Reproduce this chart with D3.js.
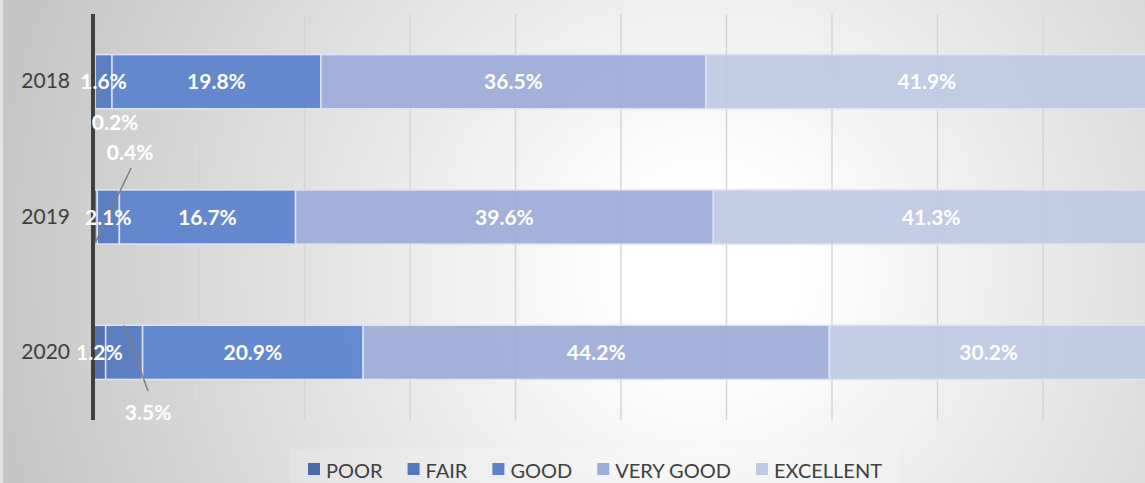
<!DOCTYPE html>
<html>
<head>
<meta charset="utf-8">
<script src="https://cdn.jsdelivr.net/npm/d3@7"></script>
<style>
  html, body { margin: 0; padding: 0; background: #fff; }
  svg { display: block; font-family: Lato, "Open Sans", sans-serif; }
</style>
</head>
<body>
<script>
/*** data ***/
const years = ["2018", "2019", "2020"];
const keys = ["POOR", "FAIR", "GOOD", "VERY GOOD", "EXCELLENT"];
const poor = [0.2, 0.4, 1.2];
const fair = [1.6, 2.1, 3.5];
const good = [19.8, 16.7, 20.9];
const veryGood = [36.5, 39.6, 44.2];
const excellent = [41.9, 41.3, 30.2];
const colors = ["#4a6aae", "#5278c0", "#5b82cc", "#9dacd8", "#c0c9e4"];

// labels that sit outside the bar: [year, key, dx, dy, leader line?]
const callouts = [
  ["2018", "POOR", 21, 41, false],
  ["2019", "POOR", 35, -65, true],
  ["2020", "FAIR", 24, 60, true]
];

/*** global variables ***/
const width = 1145, height = 483;

const rows = years.map((yr, i) => ({
  year: yr,
  "POOR": poor[i], "FAIR": fair[i], "GOOD": good[i],
  "VERY GOOD": veryGood[i], "EXCELLENT": excellent[i]
}));

const series = d3.stack().keys(keys)(rows);

const x = d3.scaleLinear().domain([0, 100]).range([93, 1148]);
const y = d3.scaleBand().domain(years).range([14, 420])
  .paddingInner(0.6).paddingOuter(0.3);
const color = d3.scaleOrdinal(keys, colors);

const svg = d3.select("body").append("svg")
  .attr("width", width).attr("height", height)
  .attr("viewBox", [0, 0, width, height]);

/*** background ***/
const defs = svg.append("defs");
const grad = defs.append("radialGradient")
  .attr("id", "bg").attr("gradientUnits", "userSpaceOnUse")
  .attr("cx", 710).attr("cy", 270).attr("r", 720);
grad.append("stop").attr("offset", 0).attr("stop-color", "#ffffff");
grad.append("stop").attr("offset", 0.12).attr("stop-color", "#ffffff");
grad.append("stop").attr("offset", 1).attr("stop-color", "#c6c6c6");

const gridGrad = defs.append("linearGradient")
  .attr("id", "gridline").attr("gradientUnits", "userSpaceOnUse")
  .attr("x1", 0).attr("y1", 14).attr("x2", 0).attr("y2", 420);
gridGrad.append("stop").attr("offset", 0).attr("stop-color", "#d4d4d4");
gridGrad.append("stop").attr("offset", 1).attr("stop-color", "#8c8c8c");

svg.append("rect").attr("width", width).attr("height", height).attr("fill", "#e4e4e4");
svg.append("rect").attr("x", 3).attr("width", width - 3).attr("height", height)
  .attr("fill", "url(#bg)");

/*** gridlines ***/
svg.append("g")
  .attr("transform", `translate(0,420)`)
  .call(d3.axisBottom(x).tickValues(d3.range(10, 101, 10)).tickSize(-406).tickFormat(""))
  .call(g => g.select(".domain").remove())
  .call(g => g.selectAll(".tick line")
    .attr("stroke", "url(#gridline)").attr("stroke-width", 1.4));

/*** bars ***/
svg.append("g")
  .selectAll("g")
  .data(series)
  .join("g")
  .attr("fill", d => color(d.key))
  .selectAll("rect")
  .data(d => d)
  .join("rect")
  .attr("x", d => x(d[0]))
  .attr("y", d => y(d.data.year))
  .attr("width", d => x(d[1]) - x(d[0]))
  .attr("height", y.bandwidth())
  .attr("fill-opacity", 0.93)
  .attr("stroke", "#dde3f3")
  .attr("stroke-width", 1.5);

/*** vertical axis ***/
svg.append("g")
  .attr("transform", `translate(${x(0)},0)`)
  .call(d3.axisLeft(y).tickSize(0).tickPadding(23))
  .call(g => g.select(".domain")
    .attr("d", `M0,14V420`).attr("stroke", "#404040").attr("stroke-width", 4))
  .call(g => g.selectAll("text")
    .attr("fill", "#404040").attr("font-size", 21)
    .attr("font-family", "Lato, 'Open Sans', sans-serif"));

/*** data labels ***/
const isCallout = (yr, key) => callouts.find(c => c[0] === yr && c[1] === key);
const labels = [];
series.forEach(s => s.forEach(d => {
  const c = isCallout(d.data.year, s.key);
  const cx = (x(d[0]) + x(d[1])) / 2;
  const cy = y(d.data.year) + y.bandwidth() / 2;
  labels.push({
    text: d3.format(".1f")(d.data[s.key]) + "%",
    x: c ? cx + c[2] : cx,
    y: c ? cy + c[3] : cy,
    lead: c && c[4] ? {x0: cx, y0: c[3] < 0 ? cy + y.bandwidth() / 2 - 1 : cy - y.bandwidth() / 2,
                       x1: cx + c[2] + (c[3] < 0 ? 1 : 0), y1: cy + c[3] + (c[3] < 0 ? 16 : -21)} : null
  });
}));

svg.append("g")
  .selectAll("line")
  .data(labels.filter(d => d.lead))
  .join("line")
  .attr("x1", d => d.lead.x0).attr("y1", d => d.lead.y0)
  .attr("x2", d => d.lead.x1).attr("y2", d => d.lead.y1)
  .attr("stroke", "#7f7f7f").attr("stroke-width", 1.5);

svg.append("g")
  .selectAll("text")
  .data(labels)
  .join("text")
  .attr("x", d => d.x).attr("y", d => d.y)
  .attr("dy", "0.36em")
  .attr("text-anchor", "middle")
  .attr("fill", "#ffffff")
  .attr("font-size", 21)
  .attr("font-weight", "bold")
  .text(d => d.text);

/*** legend ***/
const legend = svg.append("g");
const legendBg = legend.append("rect")
  .attr("fill", "#ffffff").attr("fill-opacity", 0.16);
const items = legend.selectAll("g")
  .data(keys)
  .join("g");
items.append("rect")
  .attr("width", 12).attr("height", 12).attr("y", -15)
  .attr("fill", d => color(d));
items.append("text")
  .attr("x", 18).attr("y", 0)
  .attr("fill", "#404040").attr("font-size", 20)
  .text(d => d);

let offset = 0;
const widths = [];
items.each(function () {
  widths.push(18 + this.querySelector("text").getComputedTextLength());
});
const gap = 25;
const total = d3.sum(widths) + gap * (keys.length - 1);
const start = 595 - total / 2;
items.attr("transform", (d, i) => {
  const t = `translate(${start + offset},478)`;
  offset += widths[i] + gap;
  return t;
});
legendBg.attr("x", start - 18).attr("y", 449)
  .attr("width", total + 36).attr("height", 34);
</script>
</body>
</html>
